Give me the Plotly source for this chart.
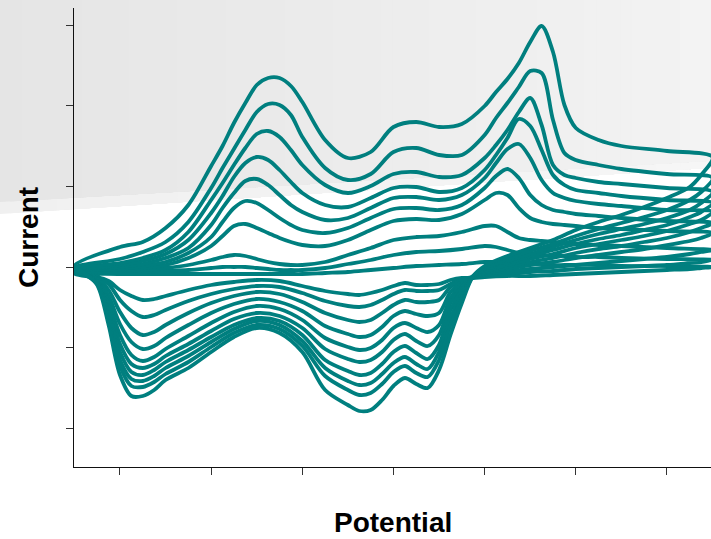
import plotly.graph_objects as go

# Potential grids (V): forward sweep and reverse sweep
potential_fwd = [-0.30, -0.20, -0.15, -0.10, -0.05, 0.00, 0.025, 0.05, 0.075, 0.10,
                 0.125, 0.15, 0.175, 0.20, 0.25, 0.30, 0.35, 0.40, 0.45, 0.50,
                 0.55, 0.60, 0.625, 0.65, 0.675, 0.70, 0.725, 0.75, 0.775, 0.80,
                 0.85, 0.90, 1.00, 1.10]
potential_rev = [1.075, 1.05, 1.00, 0.95, 0.90, 0.85, 0.80, 0.75, 0.70, 0.65,
                 0.60, 0.575, 0.55, 0.525, 0.50, 0.475, 0.45, 0.425, 0.40, 0.375,
                 0.35, 0.325, 0.30, 0.25, 0.20, 0.15, 0.10, 0.05, 0.00, -0.05,
                 -0.10, -0.125, -0.15, -0.175, -0.20, -0.225, -0.25, -0.275, -0.30]

# Current (arbitrary units), one forward and one reverse array per cycle
fwd_1 = [-7, -7, -7, -7, -7, -7, -7, -7, -7, -7, -7, -7, -7, -7, -6, -5, -3, -1, 1, 2,
         3, 5, 5, 4, 3, 3, 3, 2, 2, 2, 2, 1, 1, 0]
rev_1 = [-1, -2, -3, -4, -5, -6, -7, -8, -9, -9, -10, -11, -11, -13, -17, -18, -18, -16, -19, -23,
         -26, -28, -27, -24, -19, -14, -13, -15, -18, -23, -29, -32, -33, -29, -23, -14, -10, -9, -7]
fwd_2 = [-6, -5, -5, -4, -3, -1, 0, 0, 0, -1, -2, -3, -3, -3, -1, 3, 7, 12, 15, 16,
         18, 21, 20, 17, 14, 13, 12, 11, 11, 10, 10, 9, 8, 7]
rev_2 = [5, 4, 2, 1, 0, -1, -2, -4, -5, -6, -8, -10, -12, -17, -23, -24, -24, -23, -27, -33,
         -38, -40, -39, -34, -26, -20, -19, -22, -27, -34, -43, -48, -50, -44, -33, -17, -10, -8, -6]
fwd_3 = [-5, -4, -3, -1, 2, 7, 10, 12, 11, 8, 5, 3, 2, 2, 5, 12, 19, 27, 30, 31,
         35, 41, 41, 35, 29, 27, 26, 25, 24, 23, 22, 21, 19, 17]
rev_3 = [15, 13, 10, 8, 6, 4, 2, 0, -2, -4, -7, -10, -13, -20, -33, -35, -35, -33, -38, -46,
         -53, -55, -53, -46, -35, -27, -25, -29, -36, -46, -58, -65, -68, -61, -45, -23, -11, -8, -5]
fwd_4 = [-4, -3, -1, 2, 9, 21, 31, 41, 43, 39, 34, 29, 25, 22, 21, 27, 37, 46, 48, 47,
         53, 67, 74, 72, 59, 49, 45, 43, 42, 41, 39, 38, 36, 34]
rev_4 = [29, 26, 22, 18, 15, 12, 9, 5, 2, -2, -6, -10, -15, -25, -46, -49, -47, -44, -49, -60,
         -68, -70, -67, -59, -44, -35, -32, -37, -46, -58, -71, -79, -82, -75, -57, -29, -12, -8, -4]
fwd_5 = [-4, -2, 1, 5, 14, 30, 45, 59, 66, 64, 57, 49, 42, 37, 34, 39, 49, 58, 59, 57,
         62, 79, 91, 98, 89, 72, 62, 57, 55, 53, 51, 49, 46, 44]
rev_5 = [39, 35, 29, 25, 21, 18, 14, 9, 5, 0, -5, -10, -17, -31, -58, -65, -61, -56, -61, -73,
         -81, -83, -80, -71, -53, -42, -39, -45, -56, -69, -82, -90, -94, -88, -68, -35, -13, -8, -4]
fwd_6 = [-3, 0, 3, 9, 19, 42, 59, 74, 86, 88, 82, 72, 62, 55, 47, 49, 59, 69, 70, 67,
         72, 89, 104, 118, 123, 109, 87, 74, 69, 66, 63, 61, 57, 55]
rev_6 = [47, 43, 36, 31, 27, 23, 19, 13, 8, 2, -4, -9, -20, -36, -68, -79, -74, -67, -73, -85,
         -93, -95, -92, -82, -61, -49, -46, -52, -64, -77, -89, -97, -101, -97, -77, -40, -14, -8, -3]
fwd_7 = [-3, 2, 6, 13, 27, 54, 71, 90, 104, 110, 107, 97, 85, 74, 62, 60, 69, 79, 80, 75,
         79, 97, 112, 129, 148, 141, 117, 92, 82, 77, 74, 71, 67, 64]
rev_7 = [55, 50, 42, 37, 32, 28, 23, 17, 11, 4, -3, -9, -23, -43, -78, -92, -86, -79, -85, -97,
         -106, -108, -104, -93, -68, -54, -51, -58, -70, -83, -95, -103, -108, -105, -85, -45, -15, -8, -3]
fwd_8 = [-2, 4, 9, 17, 35, 67, 84, 102, 119, 133, 136, 130, 117, 102, 82, 74, 81, 93, 95, 90,
         92, 109, 122, 137, 155, 169, 142, 102, 92, 89, 85, 83, 79, 75]
rev_8 = [64, 57, 49, 43, 38, 33, 27, 20, 13, 6, -2, -9, -27, -51, -85, -102, -97, -90, -96, -107,
         -116, -118, -114, -101, -74, -58, -54, -62, -75, -89, -101, -109, -114, -112, -93, -49, -16, -8, -2]
fwd_9 = [-1, 8, 15, 25, 45, 79, 99, 118, 137, 155, 163, 162, 152, 130, 99, 87, 93, 115, 119, 112,
         112, 132, 149, 164, 180, 196, 194, 147, 114, 107, 102, 98, 93, 89]
rev_9 = [75, 67, 57, 50, 44, 38, 31, 23, 16, 8, -1, -9, -31, -58, -93, -110, -106, -99, -105, -117,
         -126, -128, -123, -109, -79, -62, -58, -66, -80, -95, -107, -115, -120, -119, -99, -53, -17, -8, -1]
fwd_10 = [1, 20, 25, 39, 62, 101, 121, 144, 164, 182, 189, 189, 181, 165, 127, 109, 115, 140, 145, 140,
          143, 161, 175, 188, 204, 225, 241, 215, 162, 139, 127, 121, 116, 110]
rev_10 = [92, 80, 69, 60, 52, 45, 37, 27, 19, 11, 1, -9, -36, -68, -103, -121, -117, -111, -119, -133,
          -143, -144, -138, -123, -85, -66, -61, -70, -85, -101, -113, -123, -129, -129, -108, -58, -18, -7, 1]

cycles = [(fwd_1, rev_1), (fwd_2, rev_2), (fwd_3, rev_3), (fwd_4, rev_4), (fwd_5, rev_5),
          (fwd_6, rev_6), (fwd_7, rev_7), (fwd_8, rev_8), (fwd_9, rev_9), (fwd_10, rev_10)]

x_ticks = [-0.2, 0.0, 0.2, 0.4, 0.6, 0.8, 1.0]
y_ticks = [-161.2, -80.6, 0, 80.6, 161.2, 241.8]

TEAL = "#007f7f"
W, H = 711, 539
ML, MR, MT, MB = 74, 0, 8, 72
PW, PH = W - ML - MR, H - MT - MB

fig = go.Figure()
for f, r in cycles:
    fig.add_trace(go.Scatter(
        x=potential_fwd + potential_rev, y=f + r, mode="lines",
        line=dict(color=TEAL, width=3.8, shape="spline", smoothing=0.9),
        showlegend=False, hoverinfo="skip"))

# background grey gradient wedge (decoration), built from pixel geometry
def px2paper(px, py):
    return (px - ML) / PW, (H - MB - py) / PH

shapes = []
N = 60
x_end = W + 5
def band_line(px, a, b):
    return a + b * px
for a, b, c0, c1 in [(214, -0.065, 240, 246), (202, -0.058, 229, 243)]:
    for i in range(N):
        xs = -2 + i * (x_end + 2) / N
        c = int(round(c0 + (c1 - c0) * (xs + (x_end / N) / 2) / W))
        p = [px2paper(xs, -5), px2paper(x_end, -5),
             px2paper(x_end, band_line(x_end, a, b)), px2paper(xs, band_line(xs, a, b))]
        path = "M " + " L ".join(f"{u:.5f},{v:.5f}" for u, v in p) + " Z"
        shapes.append(dict(type="path", xref="paper", yref="paper", path=path,
                           fillcolor=f"rgb({c},{c},{c})", line=dict(width=0), layer="below"))

fig.update_layout(
    width=W, height=H,
    margin=dict(l=ML, r=MR, t=MT, b=MB),
    paper_bgcolor="white", plot_bgcolor="rgba(0,0,0,0)",
    shapes=shapes,
    xaxis=dict(range=[-0.3009, 1.0966], showgrid=False, zeroline=False,
               showline=True, linecolor="#111", linewidth=1.3,
               ticks="outside", ticklen=7, tickwidth=1.3, tickcolor="#333",
               tickvals=x_ticks, showticklabels=False),
    yaxis=dict(range=[-200, 259], showgrid=False, zeroline=False,
               showline=True, linecolor="#111", linewidth=1.3,
               ticks="outside", ticklen=7, tickwidth=1.3, tickcolor="#333",
               tickvals=y_ticks, showticklabels=False),
    annotations=[
        dict(text="Potential", xref="paper", yref="paper", x=(393 - ML) / PW, y=(H - MB - 522) / PH,
             xanchor="center", yanchor="middle", showarrow=False,
             font=dict(family="Liberation Sans, Arial", size=28, color="black", weight="bold")),
        dict(text="Current", xref="paper", yref="paper", x=(28 - ML) / PW, y=(H - MB - 238) / PH,
             xanchor="center", yanchor="middle", showarrow=False, textangle=-90,
             font=dict(family="Liberation Sans, Arial", size=28, color="black", weight="bold")),
    ],
)

fig.write_html("out.html", config={"displayModeBar": False},
               post_script="document.body.style.margin='0';document.body.style.overflow='hidden';")
